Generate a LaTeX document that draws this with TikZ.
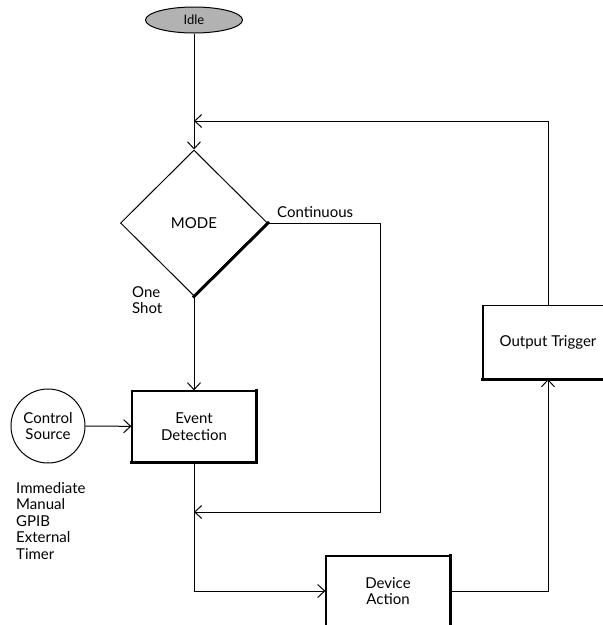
\documentclass[tikz,border=0pt]{standalone}
\usepackage{fontspec}
\setmainfont{Lato}
\usetikzlibrary{arrows.meta, positioning, shapes.geometric}
\newcommand{\labelfont}{\fontsize{15}{16.5}\selectfont}
\newcommand{\idlefont}{\fontsize{13}{15}\selectfont}
\tikzset{
  blockbox/.style = {draw, line width=1.2pt, minimum width=124pt,
                     minimum height=71pt, inner sep=0pt, align=center,
                     font=\labelfont},
  decision/.style = {draw, diamond, aspect=1, line width=1pt,
                     minimum width=147pt, minimum height=146pt,
                     inner sep=0pt, font=\labelfont},
  terminal/.style = {draw, ellipse, line width=1pt, fill=black!30,
                     minimum width=97pt, minimum height=26pt,
                     inner sep=0pt, font=\idlefont},
  srcnode/.style  = {draw, circle, line width=1pt, minimum size=74pt,
                     inner sep=0pt, align=center, font=\labelfont},
  note/.style     = {inner sep=0pt, align=left, font=\labelfont},
  flow/.style     = {-{Straight Barb[length=7pt, width=13pt]}, line width=1pt},
  shade/.style    = {line width=3pt, line cap=rect},
}

\begin{document}
\begin{tikzpicture}[x=1pt, y=-1pt]
    \useasboundingbox (0,0) rectangle (603,625);
    \clip (0,0) rectangle (603,625);

    % --- main column ---
    \node[terminal] (idle) at (194,20) {Idle};
    \node[decision] (mode) at (194,223) {MODE};
    \node[blockbox] (evdet) at (194,426.5) {Event\\Detection};

    % --- trigger source ---
    \node[srcnode] (ctrl) at (48,426) {Control\\Source};
    \node[note, anchor=north west] (srclist) at (16,482)
      {Immediate\\Manual\\GPIB\\External\\Timer};

    % --- action and output ---
    \node[blockbox, minimum height=70pt] (devact) at (388,591) {Device\\Action};
    \node[blockbox, minimum width=130pt, minimum height=73pt] (outtrig)
      at (548,342) {Output Trigger};

    % --- branch labels ---
    \node[note, anchor=south west, xshift=9pt, yshift=5pt] (contlbl)
      at (mode.east) {Continuous};
    \node[note, anchor=north west] (shotlbl) at (132,286) {One\\Shot};

    % --- joins on the main column ---
    \coordinate (loopin) at (194,121);
    \coordinate (retin) at (194,512);
    \coordinate (contturn) at (380,512);

    % --- connectors ---
    \draw[flow] (idle) -- (mode);
    \draw[flow] (outtrig.north) |- (loopin);
    \draw[flow] (mode.east) -| (contturn) -- (retin);
    \draw[flow] (mode) -- (evdet);
    \draw[flow] (ctrl) -- (evdet);
    \draw[flow] (evdet) |- (devact);
    \draw[flow] (devact) -| (outtrig);

    % --- heavy edges ---
    \draw[shade] (mode.east) -- (mode.south);
    \foreach \n in {evdet, devact, outtrig}
      \draw[shade] (\n.north east) -- (\n.south east) -- (\n.south west);
\end{tikzpicture}
\end{document}
